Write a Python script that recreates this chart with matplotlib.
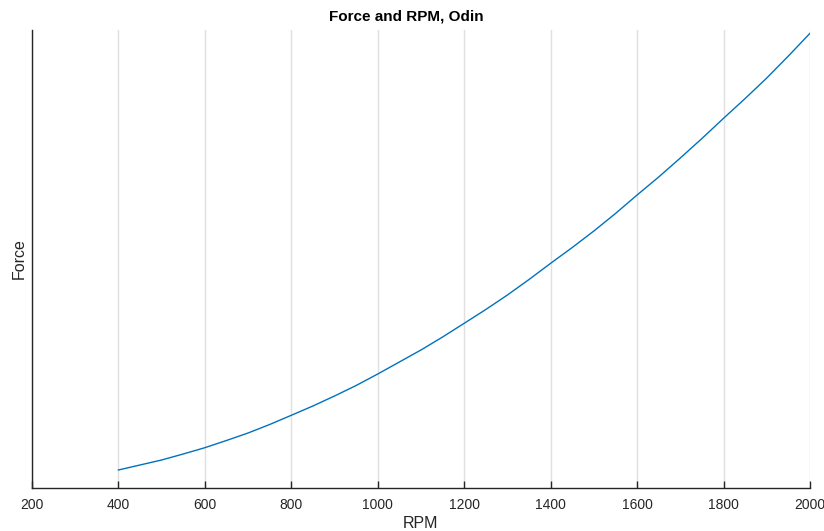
import matplotlib
matplotlib.use('Agg')
import matplotlib.pyplot as plt

plt.rcParams['font.family'] = ['Liberation Sans', 'DejaVu Sans']

## Odin force curve, arbitrary force units
rpm = [400, 450, 500, 550, 600, 650, 700, 750, 800, 850, 900, 950,
       1000, 1050, 1100, 1150, 1200, 1250, 1300, 1350, 1400, 1450,
       1500, 1550, 1600, 1650, 1700, 1750, 1800, 1850, 1900, 1950, 2000]
force = [18, 23, 28, 34, 40.3, 47.5, 55, 63.5, 72.7, 82, 92, 102.5,
         114, 126, 138, 151, 164.7, 178.5, 193, 208.5, 224.7, 240.5,
         257, 274.5, 293, 311, 330, 349.5, 369.7, 389.5, 410, 432, 454.7]
xticks = [200, 400, 600, 800, 1000, 1200, 1400, 1600, 1800, 2000]

fig = plt.figure(figsize=(8.24, 5.31), dpi=100)
ax = fig.add_axes([0.0388, 0.081, 0.9442, 0.8625])

ax.plot(rpm, force, color='#0072BD', linewidth=1.0)

ax.set_xlim(200, 2000)
ax.set_ylim(0, 458)
ax.set_xticks(xticks)
ax.set_yticks([])

## vertical grid only
ax.grid(axis='x', color='#e0e0e0', linewidth=1.0)
ax.set_axisbelow(True)

for side in ['top', 'right']:
    ax.spines[side].set_visible(False)
for side in ['left', 'bottom']:
    ax.spines[side].set_color('#262626')
    ax.spines[side].set_linewidth(1.0)

ax.tick_params(axis='x', direction='in', length=5, width=1, color='#262626',
               labelsize=10, labelcolor='#262626', pad=7)

ax.set_xlabel('RPM', fontsize=11.5, color='#262626', labelpad=3)
ax.set_ylabel('Force', fontsize=11.5, color='#262626', labelpad=4)
ax.set_title('Force and RPM, Odin', fontsize=11, fontweight='bold', x=0.481, pad=7)

fig.savefig('out.png', dpi=100)
